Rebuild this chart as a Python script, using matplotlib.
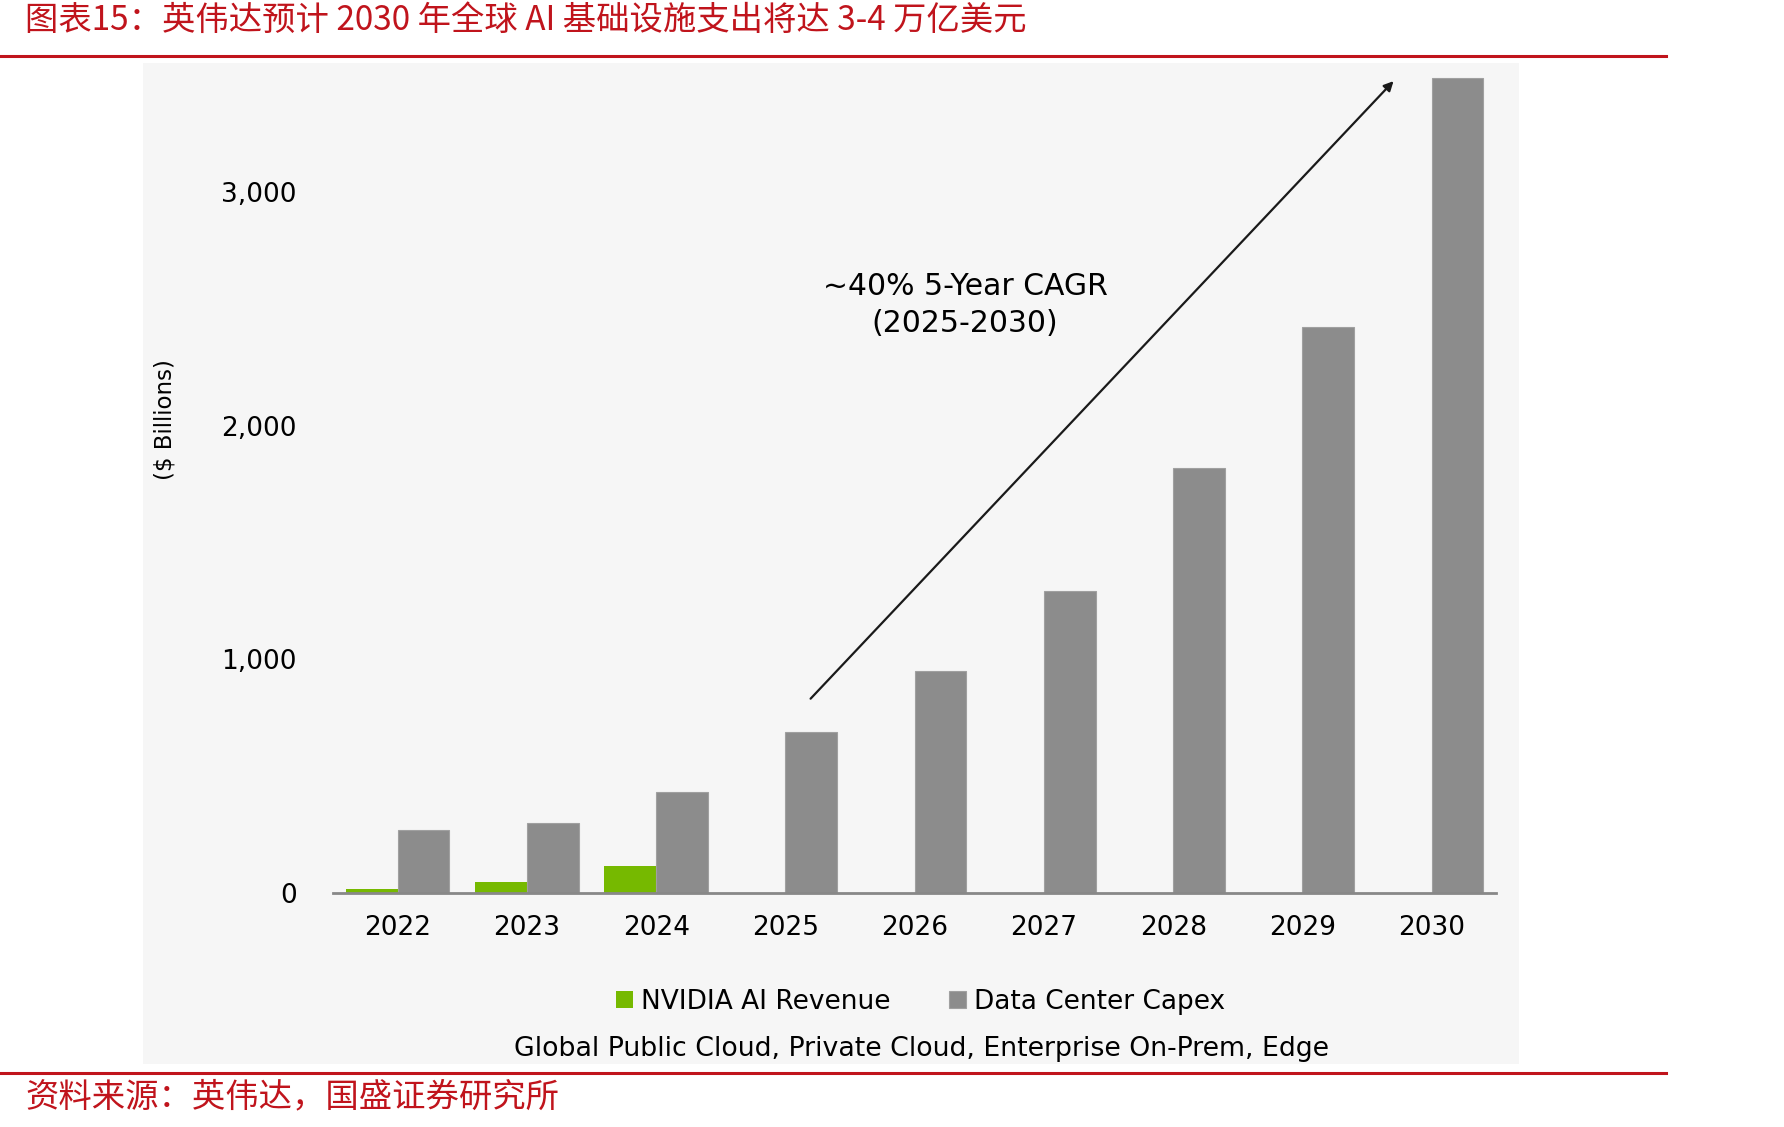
import matplotlib
matplotlib.use('Agg')
import matplotlib.pyplot as plt
from matplotlib.patches import Rectangle
from matplotlib.lines import Line2D
import numpy as np

plt.rcParams['font.family'] = ['DejaVu Sans', 'Noto Sans CJK SC']

# Data ($ Billions)
years = ['2022', '2023', '2024', '2025', '2026', '2027', '2028', '2029', '2030']
nvidia_ai_revenue = [16, 46, 114, 0, 0, 0, 0, 0, 0]
dc_capex = [268, 298, 431, 687, 950, 1291, 1817, 2421, 3488]
y_ticks = [0, 1000, 2000, 3000]
y_tick_labels = ['0', '1,000', '2,000', '3,000']

title = '图表15：英伟达预计 2030 年全球 AI 基础设施支出将达 3-4 万亿美元'
source = '资料来源：英伟达，国盛证券研究所'
red = '#C0141C'
green = '#76B900'
gray = '#8C8C8C'

fig = plt.figure(figsize=(17.84, 11.27), dpi=100)

# light gray panel behind the chart
fig.patches.append(Rectangle((0.0802, 0.0559), 0.7713, 0.888, transform=fig.transFigure,
                             facecolor='#F6F6F6', edgecolor='none', zorder=-1))

# red header / footer rules
fig.add_artist(Line2D([0, 0.934], [0.950, 0.950], color=red, lw=2.2, transform=fig.transFigure))
fig.add_artist(Line2D([0, 0.934], [0.0483, 0.0483], color=red, lw=2.2, transform=fig.transFigure))
fig.text(0.014, 0.982, title, color=red, fontsize=24, va='center', ha='left',
         family=['Noto Sans CJK SC', 'DejaVu Sans'])
fig.text(0.014, 0.027, source, color=red, fontsize=24, va='center', ha='left',
         family=['Noto Sans CJK SC', 'DejaVu Sans'])

ax = fig.add_axes([0.1867, 0.2076, 0.652, 0.7361])
ax.set_facecolor('none')

x = np.arange(len(years))
w = 0.4
ax.bar(x - w / 2, nvidia_ai_revenue, width=w, color=green, label='NVIDIA AI Revenue', zorder=2)
ax.bar(x + w / 2, dc_capex, width=w, color=gray, edgecolor='#a0a0a0', linewidth=0.8,
       label='Data Center Capex', zorder=2)

ax.set_xlim(-0.5, 8.5)
ax.set_ylim(0, 3550)
ax.set_xticks(x)
ax.set_xticklabels(years, fontsize=19)
ax.set_yticks(y_ticks)
ax.set_yticklabels(y_tick_labels, fontsize=19)
ax.tick_params(axis='x', length=0, pad=16)
ax.tick_params(axis='y', length=0, pad=26)
for s in ['top', 'right', 'left']:
    ax.spines[s].set_visible(False)
ax.spines['bottom'].set_color('#888888')
ax.spines['bottom'].set_linewidth(2)

fig.text(0.0925, 0.628, '($ Billions)', rotation=90, fontsize=16.5, ha='center', va='center')

# CAGR arrow and label
ax.annotate('', xy=(7.72, 3483), xytext=(3.18, 823),
            arrowprops=dict(arrowstyle='-|>', color='#1a1a1a', lw=1.6, mutation_scale=14))
ax.text(4.39, 2518, '~40% 5-Year CAGR\n(2025-2030)', fontsize=21.5, ha='center', va='center',
        linespacing=1.35)

leg = fig.legend(loc='center', bbox_to_anchor=(0.516, 0.111), ncol=2, frameon=False,
                 fontsize=19, handlelength=0.65, handleheight=0.65, handletextpad=0.3,
                 columnspacing=2.2)
fig.text(0.5166, 0.069, 'Global Public Cloud, Private Cloud, Enterprise On-Prem, Edge',
         fontsize=19.3, ha='center', va='center')

fig.savefig('out.png', dpi=100)
